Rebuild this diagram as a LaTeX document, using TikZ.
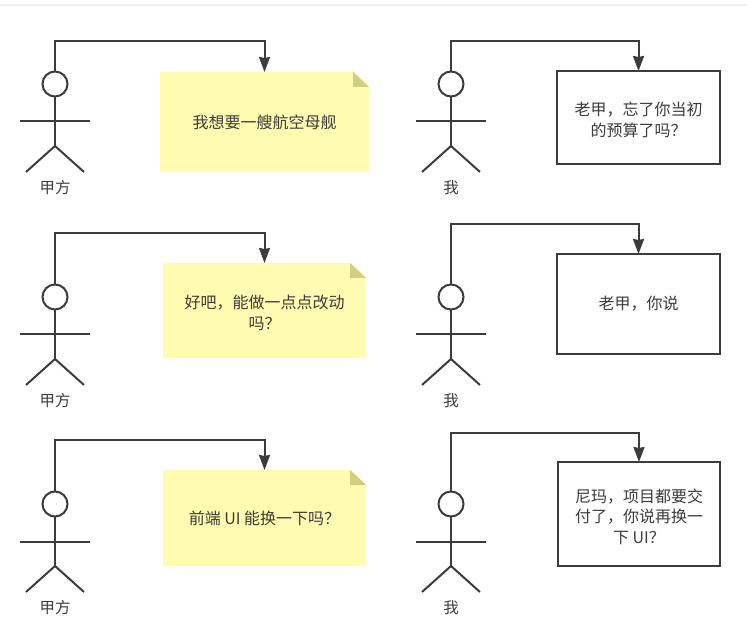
\documentclass[tikz,border=0pt]{standalone}
\usepackage{fontspec}
\setmainfont{Noto Sans CJK SC}
\usepackage{xcolor}
\usetikzlibrary{arrows.meta,calc,positioning}
\definecolor{inkgray}{HTML}{3C3C3C}
\definecolor{notefill}{HTML}{FFFBB0}
\definecolor{foldfill}{HTML}{D2CE80}
\definecolor{rulegray}{HTML}{EEEEEE}
\newcommand{\topgap}{\rule{0pt}{18.5pt}}
\tikzset{
	limb/.style={line width=2pt, draw=inkgray},
	link/.style={line width=2pt, draw=inkgray, -{Stealth[length=15pt,width=11pt,inset=1pt]}},
	actorhead/.style={circle, draw=inkgray, line width=2pt, minimum size=25pt, inner sep=0pt, outer sep=0pt},
	actorname/.style={font=\fontsize{15.5}{18}\selectfont, text=inkgray, inner sep=0pt},
	notebox/.style={fill=notefill, inner sep=0pt, outer sep=0pt, align=center, text=inkgray, font=\fontsize{16}{20.5}\selectfont},
	framebox/.style={draw=inkgray, line width=2.2pt, fill=white, inner sep=0pt, outer sep=0pt, align=center, text=inkgray, font=\fontsize{16}{20.5}\selectfont},
	foldpart/.style={fill=foldfill},
}
\begin{document}
\begin{tikzpicture}[x=1pt,y=-1pt]
	\useasboundingbox (0,0) rectangle (747,636);
	\fill [rulegray] (0,4.5) rectangle (747,6.5);

	% left column
	\node [notebox, minimum width=209pt, minimum height=100pt] (note1) at (264.5,122) {我想要一艘航空母舰};
	\node [notebox, minimum width=203pt, minimum height=95pt] (note2) at (264.5,310.5) {\topgap 好吧，能做一点点改动\\吗？};
	\node [notebox, minimum width=203pt, minimum height=96pt] (note3) at (264.5,518) {前端 UI 能换一下吗？};
	\fill [white] ($(note1.north east)+(-16,-1)$) -- ($(note1.north east)+(1,-1)$) -- ($(note1.north east)+(1,15)$) -- cycle;
	\fill [foldpart] ($(note1.north east)+(-16,0)$) -- ($(note1.north east)+(0,15)$) -- ($(note1.north east)+(-16,15)$) -- cycle;
	\fill [white] ($(note2.north east)+(-16,-1)$) -- ($(note2.north east)+(1,-1)$) -- ($(note2.north east)+(1,15)$) -- cycle;
	\fill [foldpart] ($(note2.north east)+(-16,0)$) -- ($(note2.north east)+(0,15)$) -- ($(note2.north east)+(-16,15)$) -- cycle;
	\fill [white] ($(note3.north east)+(-16,-1)$) -- ($(note3.north east)+(1,-1)$) -- ($(note3.north east)+(1,15)$) -- cycle;
	\fill [foldpart] ($(note3.north east)+(-16,0)$) -- ($(note3.north east)+(0,15)$) -- ($(note3.north east)+(-16,15)$) -- cycle;

	\node [actorhead] (head1) at (55,84) {};
	\node [actorhead] (head2) at (55,297) {};
	\node [actorhead] (head3) at (55,504) {};
	\coordinate (hip1) at (55,146);
	\coordinate (hip2) at (55,359);
	\coordinate (hip3) at (55,566);
	\draw [limb] (head1.south) -- (hip1);
	\draw [limb] (head2.south) -- (hip2);
	\draw [limb] (head3.south) -- (hip3);
	\draw [limb] (20,121.5) -- (90,121.5);
	\draw [limb] (20,334.5) -- (90,334.5);
	\draw [limb] (20,541.5) -- (90,541.5);
	\draw [limb] (26,172) -- (hip1) -- (84,172);
	\draw [limb] (26,385) -- (hip2) -- (84,385);
	\draw [limb] (26,592) -- (hip3) -- (84,592);
	\node [actorname] (who1) at (55,188) {甲方};
	\node [actorname] (who2) at (55,401) {甲方};
	\node [actorname] (who3) at (55,608) {甲方};
	\coordinate (top1) at (55,41.5);
	\coordinate (top2) at (55,233.5);
	\coordinate (top3) at (55,439.5);
	\draw [link] (head1.north) -- (top1) -| (note1.north);
	\draw [link] (head2.north) -- (top2) -| (note2.north);
	\draw [link] (head3.north) -- (top3) -| (note3.north);

	% right column
	\node [framebox, minimum width=163pt, minimum height=93pt] (box1) at (638.5,117.5) {\topgap 老甲，忘了你当初\\的预算了吗？};
	\node [framebox, minimum width=163pt, minimum height=100pt] (box2) at (638.5,304) {老甲，你说};
	\node [framebox, minimum width=162pt, minimum height=104pt] (box3) at (639,514) {\topgap 尼玛，项目都要交\\付了，你说再换一\\下 UI？};
	\node [actorhead] (head4) at (451,84) {};
	\node [actorhead] (head5) at (451,297) {};
	\node [actorhead] (head6) at (451,504) {};
	\coordinate (hip4) at (451,146);
	\coordinate (hip5) at (451,359);
	\coordinate (hip6) at (451,566);
	\draw [limb] (head4.south) -- (hip4);
	\draw [limb] (head5.south) -- (hip5);
	\draw [limb] (head6.south) -- (hip6);
	\draw [limb] (416,121.5) -- (486,121.5);
	\draw [limb] (416,334.5) -- (486,334.5);
	\draw [limb] (416,541.5) -- (486,541.5);
	\draw [limb] (422,172) -- (hip4) -- (480,172);
	\draw [limb] (422,385) -- (hip5) -- (480,385);
	\draw [limb] (422,592) -- (hip6) -- (480,592);
	\node [actorname] (who4) at (451,188) {我};
	\node [actorname] (who5) at (451,401) {我};
	\node [actorname] (who6) at (451,608) {我};
	\coordinate (top4) at (451,41.5);
	\coordinate (top5) at (451,224.5);
	\coordinate (top6) at (451,432.5);
	\draw [link] (head4.north) -- (top4) -| (box1.north);
	\draw [link] (head5.north) -- (top5) -| (box2.north);
	\draw [link] (head6.north) -- (top6) -| (box3.north);
\end{tikzpicture}
\end{document}
